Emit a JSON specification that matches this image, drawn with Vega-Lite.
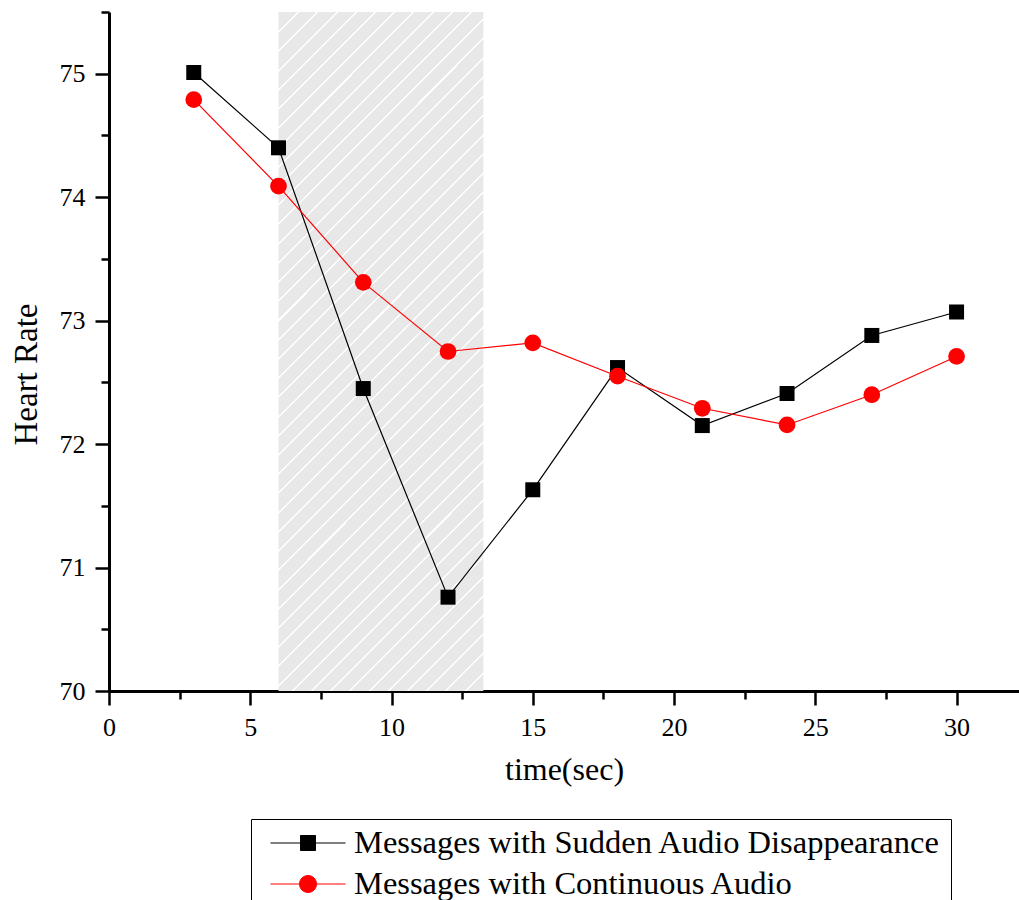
{
  "$schema": "https://vega.github.io/schema/vega-lite/v6.json",
  "width": 910,
  "height": 679,
  "autosize": {"type": "none"},
  "padding": {"left": 109, "top": 12, "right": 0, "bottom": 209},
  "background": "white",
  "config": {
    "view": {"stroke": null},
    "font": "Liberation Serif",
    "axis": {"labelFont": "Liberation Serif", "titleFont": "Liberation Serif"},
    "legend": {"labelFont": "Liberation Serif"}
  },
  "datasets": {
    "window": [{"start": 6, "end": 13.25}],
    "heart": [
      {"time": 3, "rate": 75.01, "series": "Messages with Sudden Audio Disappearance"},
      {"time": 6, "rate": 74.40, "series": "Messages with Sudden Audio Disappearance"},
      {"time": 9, "rate": 72.45, "series": "Messages with Sudden Audio Disappearance"},
      {"time": 12, "rate": 70.76, "series": "Messages with Sudden Audio Disappearance"},
      {"time": 15, "rate": 71.63, "series": "Messages with Sudden Audio Disappearance"},
      {"time": 18, "rate": 72.62, "series": "Messages with Sudden Audio Disappearance"},
      {"time": 21, "rate": 72.15, "series": "Messages with Sudden Audio Disappearance"},
      {"time": 24, "rate": 72.41, "series": "Messages with Sudden Audio Disappearance"},
      {"time": 27, "rate": 72.88, "series": "Messages with Sudden Audio Disappearance"},
      {"time": 30, "rate": 73.07, "series": "Messages with Sudden Audio Disappearance"},
      {"time": 3, "rate": 74.79, "series": "Messages with Continuous Audio"},
      {"time": 6, "rate": 74.09, "series": "Messages with Continuous Audio"},
      {"time": 9, "rate": 73.31, "series": "Messages with Continuous Audio"},
      {"time": 12, "rate": 72.75, "series": "Messages with Continuous Audio"},
      {"time": 15, "rate": 72.82, "series": "Messages with Continuous Audio"},
      {"time": 18, "rate": 72.55, "series": "Messages with Continuous Audio"},
      {"time": 21, "rate": 72.29, "series": "Messages with Continuous Audio"},
      {"time": 24, "rate": 72.155, "series": "Messages with Continuous Audio"},
      {"time": 27, "rate": 72.40, "series": "Messages with Continuous Audio"},
      {"time": 30, "rate": 72.71, "series": "Messages with Continuous Audio"}
    ]
  },
  "layer": [
    {
      "data": {"name": "window"},
      "mark": {
        "type": "rect",
        "fill": {
          "gradient": "linear",
          "x1": 0, "y1": 0, "x2": 0.36023, "y2": 1.19314,
          "stops": [
            {"offset": 0, "color": "#e8e8e8"},
            {"offset": 0.02174, "color": "#e8e8e8"}, {"offset": 0.02174, "color": "#ffffff"}, {"offset": 0.02404, "color": "#ffffff"}, {"offset": 0.02404, "color": "#e8e8e8"},
            {"offset": 0.04348, "color": "#e8e8e8"}, {"offset": 0.04348, "color": "#ffffff"}, {"offset": 0.04578, "color": "#ffffff"}, {"offset": 0.04578, "color": "#e8e8e8"},
            {"offset": 0.06522, "color": "#e8e8e8"}, {"offset": 0.06522, "color": "#ffffff"}, {"offset": 0.06752, "color": "#ffffff"}, {"offset": 0.06752, "color": "#e8e8e8"},
            {"offset": 0.08696, "color": "#e8e8e8"}, {"offset": 0.08696, "color": "#ffffff"}, {"offset": 0.08926, "color": "#ffffff"}, {"offset": 0.08926, "color": "#e8e8e8"},
            {"offset": 0.10870, "color": "#e8e8e8"}, {"offset": 0.10870, "color": "#ffffff"}, {"offset": 0.11100, "color": "#ffffff"}, {"offset": 0.11100, "color": "#e8e8e8"},
            {"offset": 0.13043, "color": "#e8e8e8"}, {"offset": 0.13043, "color": "#ffffff"}, {"offset": 0.13273, "color": "#ffffff"}, {"offset": 0.13273, "color": "#e8e8e8"},
            {"offset": 0.15217, "color": "#e8e8e8"}, {"offset": 0.15217, "color": "#ffffff"}, {"offset": 0.15447, "color": "#ffffff"}, {"offset": 0.15447, "color": "#e8e8e8"},
            {"offset": 0.17391, "color": "#e8e8e8"}, {"offset": 0.17391, "color": "#ffffff"}, {"offset": 0.17621, "color": "#ffffff"}, {"offset": 0.17621, "color": "#e8e8e8"},
            {"offset": 0.19565, "color": "#e8e8e8"}, {"offset": 0.19565, "color": "#ffffff"}, {"offset": 0.19795, "color": "#ffffff"}, {"offset": 0.19795, "color": "#e8e8e8"},
            {"offset": 0.21739, "color": "#e8e8e8"}, {"offset": 0.21739, "color": "#ffffff"}, {"offset": 0.21969, "color": "#ffffff"}, {"offset": 0.21969, "color": "#e8e8e8"},
            {"offset": 0.23913, "color": "#e8e8e8"}, {"offset": 0.23913, "color": "#ffffff"}, {"offset": 0.24143, "color": "#ffffff"}, {"offset": 0.24143, "color": "#e8e8e8"},
            {"offset": 0.26087, "color": "#e8e8e8"}, {"offset": 0.26087, "color": "#ffffff"}, {"offset": 0.26317, "color": "#ffffff"}, {"offset": 0.26317, "color": "#e8e8e8"},
            {"offset": 0.28261, "color": "#e8e8e8"}, {"offset": 0.28261, "color": "#ffffff"}, {"offset": 0.28491, "color": "#ffffff"}, {"offset": 0.28491, "color": "#e8e8e8"},
            {"offset": 0.30435, "color": "#e8e8e8"}, {"offset": 0.30435, "color": "#ffffff"}, {"offset": 0.30665, "color": "#ffffff"}, {"offset": 0.30665, "color": "#e8e8e8"},
            {"offset": 0.32609, "color": "#e8e8e8"}, {"offset": 0.32609, "color": "#ffffff"}, {"offset": 0.32839, "color": "#ffffff"}, {"offset": 0.32839, "color": "#e8e8e8"},
            {"offset": 0.34783, "color": "#e8e8e8"}, {"offset": 0.34783, "color": "#ffffff"}, {"offset": 0.35013, "color": "#ffffff"}, {"offset": 0.35013, "color": "#e8e8e8"},
            {"offset": 0.36957, "color": "#e8e8e8"}, {"offset": 0.36957, "color": "#ffffff"}, {"offset": 0.37187, "color": "#ffffff"}, {"offset": 0.37187, "color": "#e8e8e8"},
            {"offset": 0.39130, "color": "#e8e8e8"}, {"offset": 0.39130, "color": "#ffffff"}, {"offset": 0.39360, "color": "#ffffff"}, {"offset": 0.39360, "color": "#e8e8e8"},
            {"offset": 0.41304, "color": "#e8e8e8"}, {"offset": 0.41304, "color": "#ffffff"}, {"offset": 0.41534, "color": "#ffffff"}, {"offset": 0.41534, "color": "#e8e8e8"},
            {"offset": 0.43478, "color": "#e8e8e8"}, {"offset": 0.43478, "color": "#ffffff"}, {"offset": 0.43708, "color": "#ffffff"}, {"offset": 0.43708, "color": "#e8e8e8"},
            {"offset": 0.45652, "color": "#e8e8e8"}, {"offset": 0.45652, "color": "#ffffff"}, {"offset": 0.45882, "color": "#ffffff"}, {"offset": 0.45882, "color": "#e8e8e8"},
            {"offset": 0.47826, "color": "#e8e8e8"}, {"offset": 0.47826, "color": "#ffffff"}, {"offset": 0.48056, "color": "#ffffff"}, {"offset": 0.48056, "color": "#e8e8e8"},
            {"offset": 0.50000, "color": "#e8e8e8"}, {"offset": 0.50000, "color": "#ffffff"}, {"offset": 0.50230, "color": "#ffffff"}, {"offset": 0.50230, "color": "#e8e8e8"},
            {"offset": 0.52174, "color": "#e8e8e8"}, {"offset": 0.52174, "color": "#ffffff"}, {"offset": 0.52404, "color": "#ffffff"}, {"offset": 0.52404, "color": "#e8e8e8"},
            {"offset": 0.54348, "color": "#e8e8e8"}, {"offset": 0.54348, "color": "#ffffff"}, {"offset": 0.54578, "color": "#ffffff"}, {"offset": 0.54578, "color": "#e8e8e8"},
            {"offset": 0.56522, "color": "#e8e8e8"}, {"offset": 0.56522, "color": "#ffffff"}, {"offset": 0.56752, "color": "#ffffff"}, {"offset": 0.56752, "color": "#e8e8e8"},
            {"offset": 0.58696, "color": "#e8e8e8"}, {"offset": 0.58696, "color": "#ffffff"}, {"offset": 0.58926, "color": "#ffffff"}, {"offset": 0.58926, "color": "#e8e8e8"},
            {"offset": 0.60870, "color": "#e8e8e8"}, {"offset": 0.60870, "color": "#ffffff"}, {"offset": 0.61100, "color": "#ffffff"}, {"offset": 0.61100, "color": "#e8e8e8"},
            {"offset": 0.63043, "color": "#e8e8e8"}, {"offset": 0.63043, "color": "#ffffff"}, {"offset": 0.63273, "color": "#ffffff"}, {"offset": 0.63273, "color": "#e8e8e8"},
            {"offset": 0.65217, "color": "#e8e8e8"}, {"offset": 0.65217, "color": "#ffffff"}, {"offset": 0.65447, "color": "#ffffff"}, {"offset": 0.65447, "color": "#e8e8e8"},
            {"offset": 0.67391, "color": "#e8e8e8"}, {"offset": 0.67391, "color": "#ffffff"}, {"offset": 0.67621, "color": "#ffffff"}, {"offset": 0.67621, "color": "#e8e8e8"},
            {"offset": 0.69565, "color": "#e8e8e8"}, {"offset": 0.69565, "color": "#ffffff"}, {"offset": 0.69795, "color": "#ffffff"}, {"offset": 0.69795, "color": "#e8e8e8"},
            {"offset": 0.71739, "color": "#e8e8e8"}, {"offset": 0.71739, "color": "#ffffff"}, {"offset": 0.71969, "color": "#ffffff"}, {"offset": 0.71969, "color": "#e8e8e8"},
            {"offset": 0.73913, "color": "#e8e8e8"}, {"offset": 0.73913, "color": "#ffffff"}, {"offset": 0.74143, "color": "#ffffff"}, {"offset": 0.74143, "color": "#e8e8e8"},
            {"offset": 0.76087, "color": "#e8e8e8"}, {"offset": 0.76087, "color": "#ffffff"}, {"offset": 0.76317, "color": "#ffffff"}, {"offset": 0.76317, "color": "#e8e8e8"},
            {"offset": 0.78261, "color": "#e8e8e8"}, {"offset": 0.78261, "color": "#ffffff"}, {"offset": 0.78491, "color": "#ffffff"}, {"offset": 0.78491, "color": "#e8e8e8"},
            {"offset": 0.80435, "color": "#e8e8e8"}, {"offset": 0.80435, "color": "#ffffff"}, {"offset": 0.80665, "color": "#ffffff"}, {"offset": 0.80665, "color": "#e8e8e8"},
            {"offset": 0.82609, "color": "#e8e8e8"}, {"offset": 0.82609, "color": "#ffffff"}, {"offset": 0.82839, "color": "#ffffff"}, {"offset": 0.82839, "color": "#e8e8e8"},
            {"offset": 0.84783, "color": "#e8e8e8"}, {"offset": 0.84783, "color": "#ffffff"}, {"offset": 0.85013, "color": "#ffffff"}, {"offset": 0.85013, "color": "#e8e8e8"},
            {"offset": 0.86957, "color": "#e8e8e8"}, {"offset": 0.86957, "color": "#ffffff"}, {"offset": 0.87187, "color": "#ffffff"}, {"offset": 0.87187, "color": "#e8e8e8"},
            {"offset": 0.89130, "color": "#e8e8e8"}, {"offset": 0.89130, "color": "#ffffff"}, {"offset": 0.89360, "color": "#ffffff"}, {"offset": 0.89360, "color": "#e8e8e8"},
            {"offset": 0.91304, "color": "#e8e8e8"}, {"offset": 0.91304, "color": "#ffffff"}, {"offset": 0.91534, "color": "#ffffff"}, {"offset": 0.91534, "color": "#e8e8e8"},
            {"offset": 0.93478, "color": "#e8e8e8"}, {"offset": 0.93478, "color": "#ffffff"}, {"offset": 0.93708, "color": "#ffffff"}, {"offset": 0.93708, "color": "#e8e8e8"},
            {"offset": 0.95652, "color": "#e8e8e8"}, {"offset": 0.95652, "color": "#ffffff"}, {"offset": 0.95882, "color": "#ffffff"}, {"offset": 0.95882, "color": "#e8e8e8"},
            {"offset": 0.97826, "color": "#e8e8e8"}, {"offset": 0.97826, "color": "#ffffff"}, {"offset": 0.98056, "color": "#ffffff"}, {"offset": 0.98056, "color": "#e8e8e8"},
            {"offset": 1, "color": "#e8e8e8"}
          ]
        }
      },
      "encoding": {
        "x": {"field": "start", "type": "quantitative"},
        "x2": {"field": "end"}
      }
    },
    {
      "data": {"name": "heart"},
      "mark": {"type": "point", "filled": false, "opacity": 0, "strokeWidth": 1},
      "encoding": {
        "x": {"field": "time", "type": "quantitative"},
        "y": {"field": "rate", "type": "quantitative"},
        "color": {"field": "series", "type": "nominal"},
        "fill": {
          "field": "series", "type": "nominal",
          "scale": {
            "domain": ["Messages with Sudden Audio Disappearance", "Messages with Continuous Audio"],
            "range": ["#000000", "#ff0000"]
          },
          "legend": {"title": null}
        },
        "shape": {
          "field": "series", "type": "nominal",
          "scale": {
            "domain": ["Messages with Sudden Audio Disappearance", "Messages with Continuous Audio"],
            "range": [
              "M-1,0H1M-0.2,-0.2H0.2V0.2H-0.2Z",
              "M-1,0H1M0.227,0A0.227,0.227,0,1,1,-0.227,0A0.227,0.227,0,1,1,0.227,0Z"
            ]
          },
          "legend": {"title": null}
        }
      }
    },
    {
      "data": {"name": "heart"},
      "mark": {"type": "line", "strokeWidth": 1.2},
      "encoding": {
        "x": {"field": "time", "type": "quantitative"},
        "y": {"field": "rate", "type": "quantitative"},
        "color": {"field": "series", "type": "nominal"}
      }
    },
    {
      "data": {"name": "heart"},
      "transform": [{"filter": "datum.series === 'Messages with Sudden Audio Disappearance'"}],
      "mark": {"type": "square", "opacity": 1, "size": 225},
      "encoding": {
        "x": {"field": "time", "type": "quantitative"},
        "y": {"field": "rate", "type": "quantitative"},
        "color": {"field": "series", "type": "nominal"}
      }
    },
    {
      "data": {"name": "heart"},
      "transform": [{"filter": "datum.series === 'Messages with Continuous Audio'"}],
      "mark": {"type": "circle", "opacity": 1, "size": 280},
      "encoding": {
        "x": {"field": "time", "type": "quantitative"},
        "y": {"field": "rate", "type": "quantitative"},
        "color": {"field": "series", "type": "nominal"}
      }
    }
  ],
  "encoding": {
    "x": {
      "type": "quantitative",
      "title": "time(sec)",
      "scale": {"domain": [0, 32.21], "nice": false, "zero": false},
      "axis": {
        "values": [0, 2.5, 5, 7.5, 10, 12.5, 15, 17.5, 20, 22.5, 25, 27.5, 30],
        "labelExpr": "datum.value % 5 === 0 ? format(datum.value, 'd') : ''",
        "labelOverlap": false,
        "labelFlush": false,
        "grid": false,
        "domainColor": "black",
        "domainWidth": 3,
        "tickColor": "black",
        "tickWidth": 2.5,
        "tickSize": {"condition": {"test": "datum.value % 5 !== 0", "value": 8}, "value": 14},
        "labelPadding": 30,
        "labelBaseline": "alphabetic",
        "labelFont": "Liberation Serif",
        "labelFontSize": 26,
        "labelColor": "black",
        "titleFont": "Liberation Serif",
        "titleFontSize": 32,
        "titleFontWeight": "normal",
        "titleColor": "black",
        "titleBaseline": "alphabetic",
        "titleY": 88
      }
    },
    "y": {
      "type": "quantitative",
      "title": "Heart Rate",
      "scale": {"domain": [70, 75.5], "nice": false, "zero": false},
      "axis": {
        "values": [70, 70.5, 71, 71.5, 72, 72.5, 73, 73.5, 74, 74.5, 75, 75.5],
        "labelExpr": "datum.value % 1 === 0 ? format(datum.value, 'd') : ''",
        "labelOverlap": false,
        "labelFlush": false,
        "grid": false,
        "domainColor": "black",
        "domainWidth": 3,
        "tickColor": "black",
        "tickWidth": 2.5,
        "tickSize": {"condition": {"test": "datum.value % 1 !== 0", "value": 8}, "value": 14},
        "labelPadding": 10,
        "labelFont": "Liberation Serif",
        "labelFontSize": 26,
        "labelColor": "black",
        "titleFont": "Liberation Serif",
        "titleFontSize": 33,
        "titleFontWeight": "normal",
        "titleColor": "black",
        "titleBaseline": "alphabetic",
        "titleX": -73,
        "titleY": 362
      }
    },
    "color": {
      "scale": {
        "domain": ["Messages with Sudden Audio Disappearance", "Messages with Continuous Audio"],
        "range": ["#000000", "#ff0000"]
      },
      "legend": {
        "orient": "none",
        "legendX": 142,
        "legendY": 807,
        "title": null,
        "padding": 10,
        "strokeColor": "black",
        "fillColor": "white",
        "symbolSize": 5625,
        "symbolStrokeWidth": 1,
        "symbolOpacity": 1,
        "clipHeight": 28,
        "rowPadding": 8,
        "symbolOffset": 9,
        "labelOffset": 8,
        "labelFont": "Liberation Serif",
        "labelFontSize": 32.5,
        "labelColor": "black",
        "labelLimit": 0
      }
    }
  }
}
